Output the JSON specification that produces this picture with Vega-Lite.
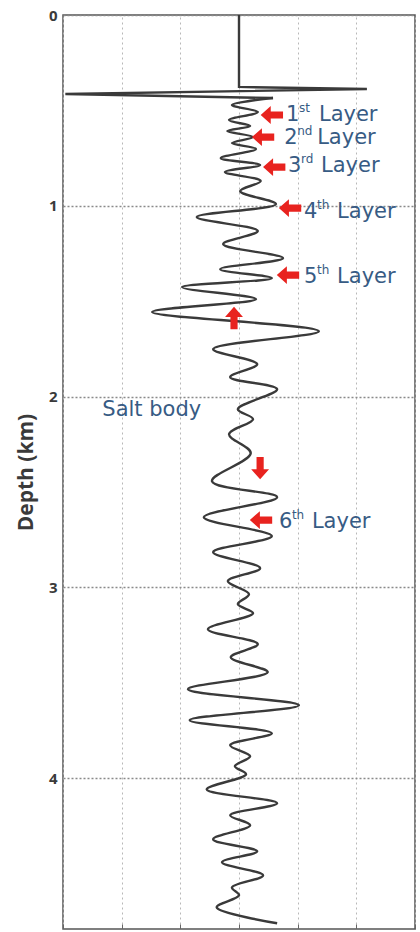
{
  "$schema": "https://vega.github.io/schema/vega-lite/v6.json",
  "width": 352,
  "height": 914,
  "autosize": "none",
  "padding": {"left": 63, "top": 15, "right": 5, "bottom": 3},
  "background": "white",
  "config": {
    "view": {"stroke": "#555555", "strokeWidth": 1.5},
    "axis": {"domain": false}
  },
  "datasets": {
    "trace": [
      {"amp": 0, "depth": 0},
      {"amp": 0, "depth": 0.377},
      {"amp": 2.18, "depth": 0.388},
      {"amp": -2.96, "depth": 0.414},
      {"amp": 0.58, "depth": 0.435},
      {"amp": -0.12, "depth": 0.472},
      {"amp": 0.32, "depth": 0.509},
      {"amp": -0.17, "depth": 0.55},
      {"amp": 0.19, "depth": 0.582},
      {"amp": -0.2, "depth": 0.608},
      {"amp": 0.24, "depth": 0.64},
      {"amp": -0.12, "depth": 0.671},
      {"amp": 0.29, "depth": 0.702},
      {"amp": -0.31, "depth": 0.75},
      {"amp": 0.36, "depth": 0.786},
      {"amp": -0.24, "depth": 0.823},
      {"amp": 0.37, "depth": 0.87},
      {"amp": 0.02, "depth": 0.923},
      {"amp": 0.63, "depth": 0.991},
      {"amp": -0.72, "depth": 1.059},
      {"amp": 0.32, "depth": 1.132},
      {"amp": -0.27, "depth": 1.201},
      {"amp": 0.75, "depth": 1.274},
      {"amp": -0.32, "depth": 1.332},
      {"amp": 0.56, "depth": 1.379},
      {"amp": -0.97, "depth": 1.426},
      {"amp": 0.29, "depth": 1.489},
      {"amp": -1.48, "depth": 1.557},
      {"amp": 1.36, "depth": 1.657},
      {"amp": -0.44, "depth": 1.751},
      {"amp": 0.31, "depth": 1.83},
      {"amp": -0.15, "depth": 1.898},
      {"amp": 0.65, "depth": 1.961},
      {"amp": -0.02, "depth": 2.066},
      {"amp": 0.24, "depth": 2.118},
      {"amp": -0.17, "depth": 2.197},
      {"amp": 0.2, "depth": 2.296},
      {"amp": -0.46, "depth": 2.443},
      {"amp": 0.65, "depth": 2.527},
      {"amp": -0.6, "depth": 2.632},
      {"amp": 0.56, "depth": 2.731},
      {"amp": -0.44, "depth": 2.815},
      {"amp": 0.36, "depth": 2.899},
      {"amp": -0.19, "depth": 2.967},
      {"amp": 0.17, "depth": 3.035},
      {"amp": -0.02, "depth": 3.088},
      {"amp": 0.24, "depth": 3.135},
      {"amp": -0.53, "depth": 3.219},
      {"amp": 0.32, "depth": 3.297},
      {"amp": -0.14, "depth": 3.366},
      {"amp": 0.49, "depth": 3.444},
      {"amp": -0.87, "depth": 3.533},
      {"amp": 1.02, "depth": 3.617},
      {"amp": -0.84, "depth": 3.696},
      {"amp": 0.56, "depth": 3.764},
      {"amp": -0.15, "depth": 3.827},
      {"amp": 0.19, "depth": 3.885},
      {"amp": -0.07, "depth": 3.937},
      {"amp": 0.12, "depth": 3.979},
      {"amp": -0.55, "depth": 4.058},
      {"amp": 0.65, "depth": 4.131},
      {"amp": -0.15, "depth": 4.194},
      {"amp": 0.19, "depth": 4.246},
      {"amp": -0.44, "depth": 4.32},
      {"amp": 0.31, "depth": 4.383},
      {"amp": -0.29, "depth": 4.44},
      {"amp": 0.41, "depth": 4.509},
      {"amp": -0.12, "depth": 4.572},
      {"amp": 0.0, "depth": 4.613},
      {"amp": -0.38, "depth": 4.676},
      {"amp": 0.65, "depth": 4.76}
    ],
    "layers": [
      {"amp": 0.8, "depth": 0.524, "num": "1", "sup": "st"},
      {"amp": 0.77, "depth": 0.645, "num": "2", "sup": "nd"},
      {"amp": 0.835, "depth": 0.79, "num": "3", "sup": "rd"},
      {"amp": 1.11, "depth": 1.033, "num": "4", "sup": "th"},
      {"amp": 1.11, "depth": 1.373, "num": "5", "sup": "th"},
      {"amp": 0.68, "depth": 2.658, "num": "6", "sup": "th"}
    ],
    "arrows": [
      {"amp": 0.56, "depth": 0.524, "dir": "left"},
      {"amp": 0.41, "depth": 0.64, "dir": "left"},
      {"amp": 0.6, "depth": 0.797, "dir": "left"},
      {"amp": 0.87, "depth": 1.012, "dir": "left"},
      {"amp": 0.835, "depth": 1.363, "dir": "left"},
      {"amp": -0.085, "depth": 1.588, "dir": "up"},
      {"amp": 0.36, "depth": 2.375, "dir": "down"},
      {"amp": 0.375, "depth": 2.647, "dir": "left"}
    ],
    "notes": [
      {"amp": -2.33, "depth": 2.07, "note": "Salt body"}
    ]
  },
  "encoding": {
    "x": {
      "field": "amp",
      "type": "quantitative",
      "scale": {"domain": [-3, 3], "nice": false, "zero": false},
      "axis": {
        "values": [-3, -2, -1, 0, 1, 2, 3],
        "labels": false,
        "title": null,
        "grid": true,
        "gridColor": "#b8b8b8",
        "gridDash": [2, 3],
        "gridWidth": 1,
        "tickSize": -5,
        "tickColor": "#666666"
      }
    },
    "y": {
      "field": "depth",
      "type": "quantitative",
      "scale": {"domain": [0, 4.79], "nice": false, "zero": false, "reverse": true},
      "axis": {
        "values": [0, 1, 2, 3, 4],
        "title": "Depth (km)",
        "titleFont": "Open Sans",
        "titleFontSize": 21,
        "titleFontWeight": "bold",
        "titleColor": "#3a3a3a",
        "titlePadding": 12,
        "labelFont": "Open Sans",
        "labelFontSize": 15,
        "labelFontWeight": "bold",
        "labelColor": "#3a3a3a",
        "labelPadding": 6,
        "grid": true,
        "gridColor": "#8a8a8a",
        "gridDash": [2, 2],
        "gridWidth": 1.3,
        "tickSize": 0
      }
    }
  },
  "layer": [
    {
      "data": {"name": "trace"},
      "transform": [{"filter": "datum.depth <= 0.436"}],
      "mark": {"type": "line", "interpolate": "linear", "color": "#3a3a3a", "strokeWidth": 2.4},
      "encoding": {
        "order": {"field": "depth", "type": "quantitative"}
      }
    },
    {
      "data": {"name": "trace"},
      "transform": [{"filter": "datum.depth >= 0.434"}],
      "mark": {"type": "line", "interpolate": "catmull-rom", "color": "#3a3a3a", "strokeWidth": 2.4},
      "encoding": {
        "order": {"field": "depth", "type": "quantitative"}
      }
    },
    {
      "data": {"name": "arrows"},
      "mark": {
        "type": "point",
        "shape": "M -1 0 L -0.1 -0.8 L -0.1 -0.32 L 1 -0.32 L 1 0.32 L -0.1 0.32 L -0.1 0.8 Z",
        "filled": true,
        "color": "#e8231f",
        "opacity": 1,
        "size": 500
      },
      "encoding": {
        "angle": {
          "field": "dir",
          "type": "nominal",
          "scale": {"type": "ordinal", "domain": ["left", "up", "down"], "range": [0, 90, 270]},
          "legend": null
        }
      }
    },
    {
      "data": {"name": "layers"},
      "mark": {"type": "text", "align": "left", "baseline": "middle", "font": "DejaVu Sans", "fontSize": 21, "color": "#375b84"},
      "encoding": {"text": {"field": "num", "type": "nominal"}}
    },
    {
      "data": {"name": "layers"},
      "mark": {"type": "text", "align": "left", "baseline": "middle", "dx": 13, "dy": -7, "font": "DejaVu Sans", "fontSize": 12, "color": "#375b84"},
      "encoding": {"text": {"field": "sup", "type": "nominal"}}
    },
    {
      "data": {"name": "layers"},
      "mark": {"type": "text", "text": "Layer", "align": "left", "baseline": "middle", "dx": 33, "font": "DejaVu Sans", "fontSize": 21, "color": "#375b84"},
      "encoding": {}
    },
    {
      "data": {"name": "notes"},
      "mark": {"type": "text", "align": "left", "baseline": "middle", "font": "DejaVu Sans", "fontSize": 21, "color": "#375b84"},
      "encoding": {"text": {"field": "note", "type": "nominal"}}
    }
  ]
}
